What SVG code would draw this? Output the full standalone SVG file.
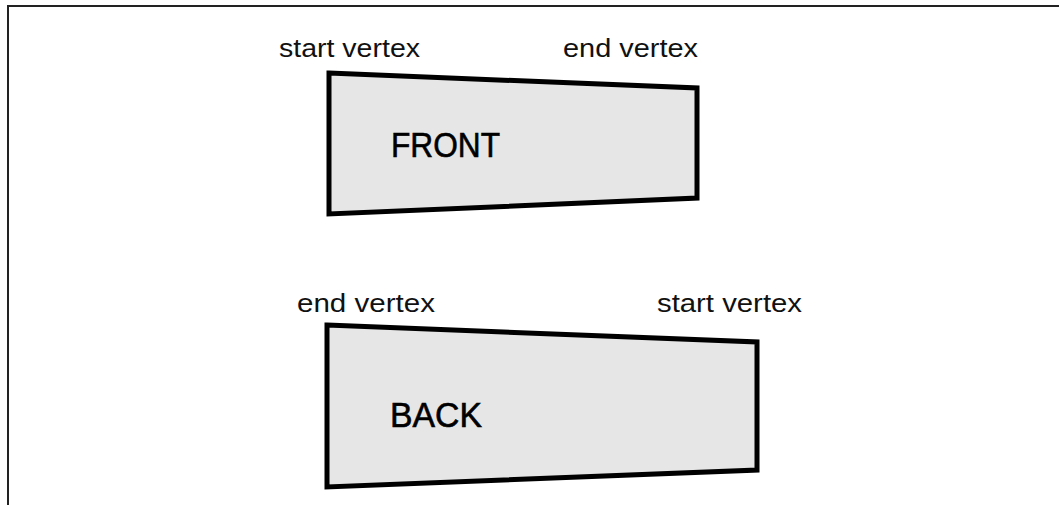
<svg xmlns="http://www.w3.org/2000/svg" width="1059" height="505" viewBox="0 0 1059 505">
  <style>
    .frame { fill: none; stroke: #222; stroke-width: 2; }
    .face { fill: #e6e6e6; stroke: #000; stroke-width: 5; stroke-linejoin: miter; }
    .label { font-family: "Liberation Sans", Arial, sans-serif; font-size: 25px; fill: #111; }
    .name { font-family: "Liberation Sans", Arial, sans-serif; font-size: 35px; fill: #000; stroke: #000; stroke-width: 0.6; }
  </style>
  <rect width="1059" height="505" fill="#fff"/>
  <!-- open frame: top and left edges -->
  <path class="frame" d="M8,505 V6 H1059"/>

  <g id="front">
    <polygon class="face" points="329,73 697,88 697,198 329,214"/>
    <text class="name" x="391" y="157" textLength="109" lengthAdjust="spacingAndGlyphs">FRONT</text>
    <text class="label" x="279" y="57" textLength="141" lengthAdjust="spacingAndGlyphs">start vertex</text>
    <text class="label" x="563" y="57" textLength="135" lengthAdjust="spacingAndGlyphs">end vertex</text>
  </g>

  <g id="back">
    <polygon class="face" points="327,325 757,342 757,470 327,487"/>
    <text class="name" x="390" y="427" textLength="92" lengthAdjust="spacingAndGlyphs">BACK</text>
    <text class="label" x="297" y="312" textLength="138" lengthAdjust="spacingAndGlyphs">end vertex</text>
    <text class="label" x="657" y="312" textLength="145" lengthAdjust="spacingAndGlyphs">start vertex</text>
  </g>

  <g id="connectors"/>
</svg>
